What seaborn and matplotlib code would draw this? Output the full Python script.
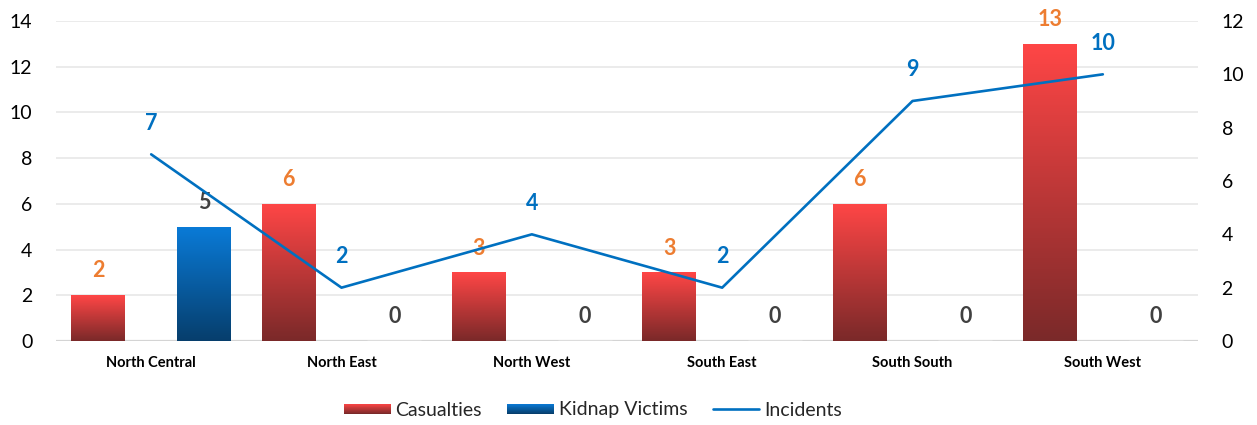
import numpy as np
import pandas as pd
import matplotlib
matplotlib.use("Agg")
import matplotlib.pyplot as plt
from matplotlib.colors import LinearSegmentedColormap, to_rgb
from matplotlib.patches import Patch, Rectangle
from matplotlib.lines import Line2D
from matplotlib.legend_handler import HandlerBase
import seaborn as sns

# Data
regions = ["North Central", "North East", "North West", "South East", "South South", "South West"]
casualties = [2, 6, 3, 3, 6, 13]
kidnap_victims = [5, 0, 0, 0, 0, 0]
incidents = [7, 2, 4, 2, 9, 10]
left_ticks = [0, 2, 4, 6, 8, 10, 12, 14]
right_ticks = [0, 2, 4, 6, 8, 10, 12]

# Colours
RED_TOP, RED_BOTTOM = "#FF4646", "#7A2929"
BLUE_TOP, BLUE_BOTTOM = "#0A7BD8", "#063E6C"
LINE_BLUE = "#0070C0"
ORANGE = "#ED7D31"
DARK_GRAY = "#404040"

sns.set_theme(style="white")
plt.rcParams["font.family"] = ["Lato", "DejaVu Sans"]

df = pd.DataFrame({
    "Region": regions * 2,
    "Series": ["Casualties"] * len(regions) + ["Kidnap Victims"] * len(regions),
    "Value": casualties + kidnap_victims,
})

fig = plt.figure(figsize=(12.57, 4.25), dpi=100)
ax = fig.add_axes([56 / 1257, 84 / 425, 1142 / 1257, 320 / 425])

sns.barplot(data=df, x="Region", y="Value", hue="Series", order=regions,
            hue_order=["Casualties", "Kidnap Victims"], width=1.11, gap=0.49,
            palette=[RED_TOP, BLUE_TOP], ax=ax, legend=False, zorder=2)

ax.set_xlim(-0.5, len(regions) - 0.5)
ax.set_ylim(0, 14)
ax.set_yticks(left_ticks)
ax.set_xlabel("")
ax.set_ylabel("")
for s in ax.spines.values():
    s.set_visible(False)
ax.grid(axis="y", color="#EBEBEB", linewidth=1.4, zorder=0)
ax.grid(axis="x", visible=False)
ax.set_axisbelow(True)
ax.axhline(0, color="#D4D4D4", linewidth=1.6, zorder=1)
ax.tick_params(axis="y", length=0, pad=17, labelsize=14, labelcolor="black")
ax.tick_params(axis="x", length=0, pad=11)
for lbl in ax.get_xticklabels():
    lbl.set_fontsize(10.5)
    lbl.set_fontweight("bold")
    lbl.set_color("black")


def gradient_cmap(top, bottom):
    return LinearSegmentedColormap.from_list("g", [bottom, top])


# Replace flat bar fills with vertical gradients
grads = [gradient_cmap(RED_TOP, RED_BOTTOM), gradient_cmap(BLUE_TOP, BLUE_BOTTOM)]
label_colors = [ORANGE, DARK_GRAY]
ramp = np.linspace(0, 1, 256).reshape(-1, 1)
for cont, cmap, lc in zip(ax.containers, grads, label_colors):
    for bar in cont:
        x0, w, h = bar.get_x(), bar.get_width(), bar.get_height()
        if h > 0:
            bar.set_facecolor("none")
            bar.set_edgecolor("none")
            im = ax.imshow(ramp, cmap=cmap, origin="lower", aspect="auto",
                           extent=[x0, x0 + w, 0, h], zorder=2)
            im.set_clip_path(bar)
        ax.annotate(f"{h:.0f}", xy=(x0 + w / 2, h), xytext=(0, 17.5),
                    textcoords="offset points", ha="center", va="center",
                    fontsize=15.5, fontweight="bold", color=lc, zorder=5)
ax.set_xlim(-0.5, len(regions) - 0.5)
ax.set_ylim(0, 14)

# Incidents line on secondary axis
ax2 = ax.twinx()
pos = np.arange(len(regions))
sns.lineplot(x=pos, y=incidents, ax=ax2, color=LINE_BLUE, linewidth=1.9, zorder=4)
ax2.set_ylim(0, 12)
ax2.set_yticks(right_ticks)
ax2.set_xlim(-0.5, len(regions) - 0.5)
ax2.set_ylabel("")
for s in ax2.spines.values():
    s.set_visible(False)
ax2.grid(False)
ax2.tick_params(axis="y", length=0, pad=17, labelsize=14, labelcolor="black")
for x, v in zip(pos, incidents):
    ax2.annotate(f"{v}", xy=(x, v), xytext=(0, 22.5), textcoords="offset points",
                 ha="center", va="center", fontsize=15.5, fontweight="bold",
                 color=LINE_BLUE)


class GradientHandler(HandlerBase):
    def __init__(self, top, bottom, n=24):
        super().__init__()
        self.top, self.bottom, self.n = np.array(to_rgb(top)), np.array(to_rgb(bottom)), n

    def create_artists(self, legend, orig_handle, xdescent, ydescent, width,
                       height, fontsize, trans):
        arts = []
        hh = height * 0.75
        y0 = -ydescent + (height - hh) / 2
        for i in range(self.n):
            t = i / (self.n - 1)
            c = self.bottom + (self.top - self.bottom) * t
            arts.append(Rectangle((-xdescent, y0 + i * hh / self.n), width,
                                  hh / self.n + 0.05, facecolor=c, edgecolor="none",
                                  transform=trans))
        return arts


h_cas = Patch(label="Casualties")
h_kid = Patch(label="Kidnap Victims")
h_inc = Line2D([], [], color=LINE_BLUE, linewidth=1.9, label="Incidents")
fig.legend(handles=[h_cas, h_kid, h_inc], loc="center", bbox_to_anchor=(593 / 1257, 15 / 425),
           ncol=3, frameon=False, fontsize=14, handlelength=2.4, handletextpad=0.25,
           columnspacing=1.3,
           handler_map={h_cas: GradientHandler(RED_TOP, RED_BOTTOM),
                        h_kid: GradientHandler(BLUE_TOP, BLUE_BOTTOM)})

fig.savefig("out.png", dpi=100)
